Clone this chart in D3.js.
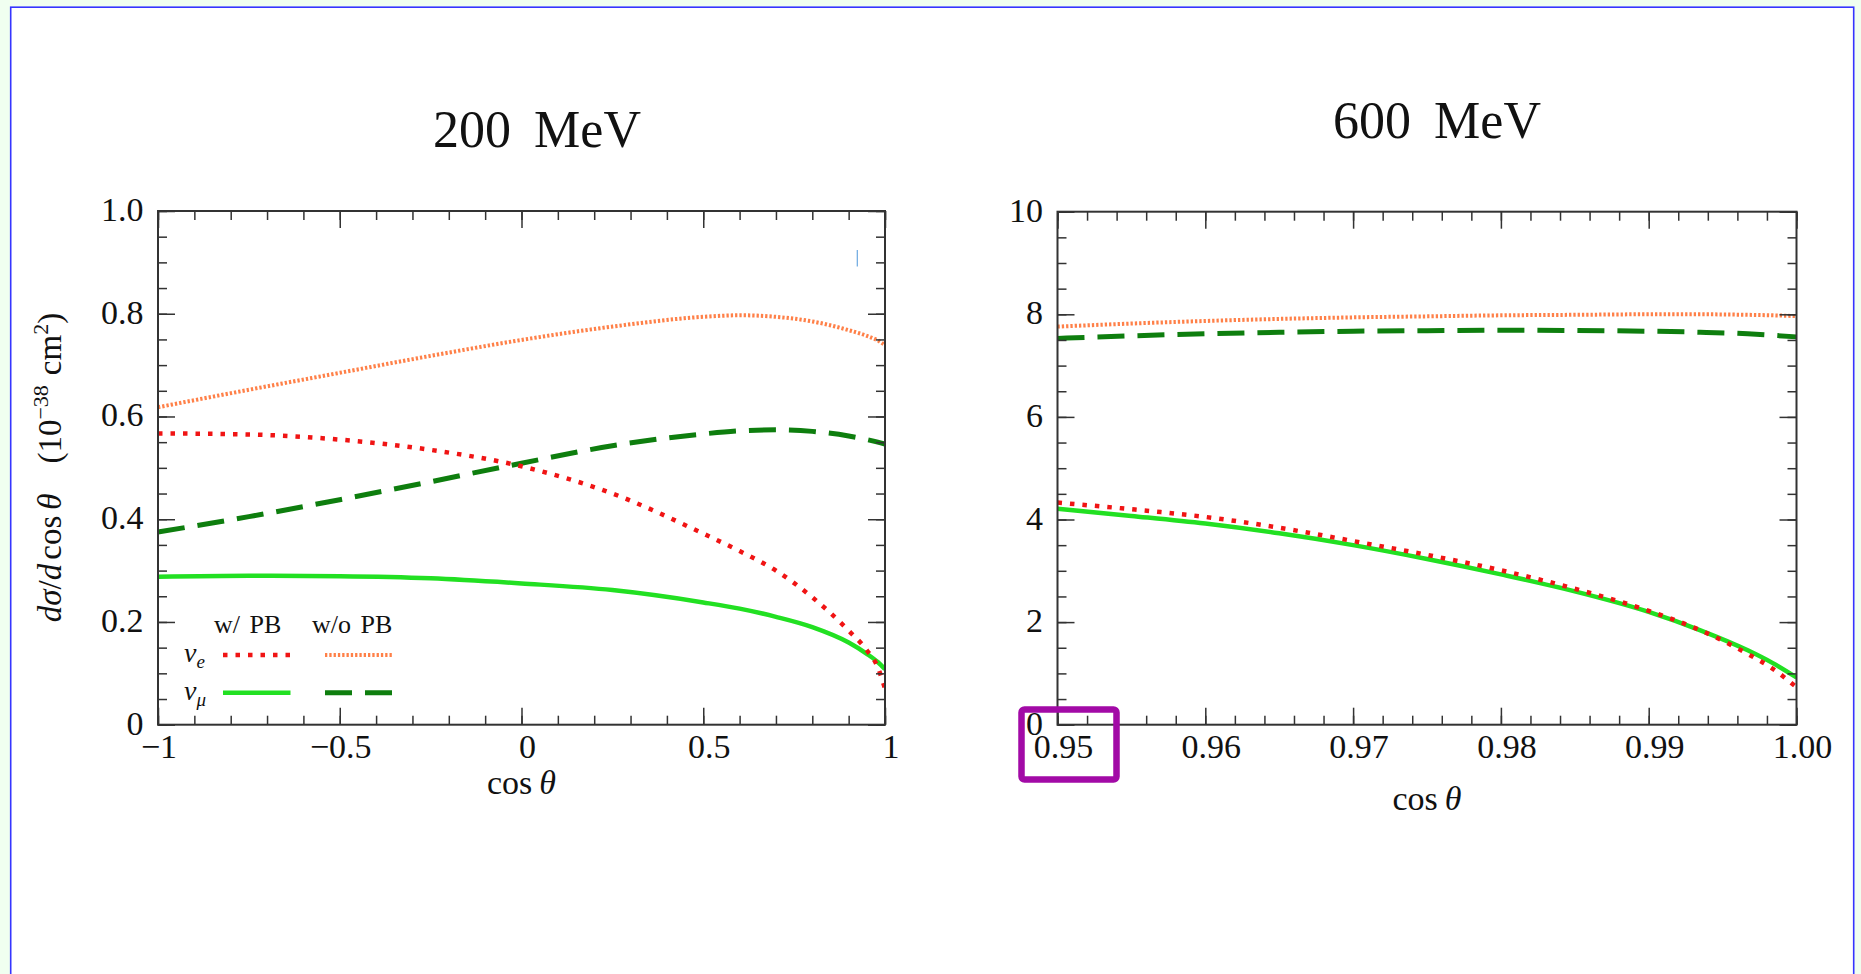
<!DOCTYPE html>
<html>
<head>
<meta charset="utf-8">
<script src="https://cdn.jsdelivr.net/npm/d3@7"></script>
<style>
  html, body { margin: 0; padding: 0; background: #f0fff0; }
  svg { display: block; }
  text { font-family: "Liberation Serif", "DejaVu Serif", serif; fill: #111; }
</style>
</head>
<body>
<svg id="fig" width="1861" height="974"></svg>
<script>
// ---- 200 MeV panel: dσ/dcosθ (10^-38 cm^2) versus cosθ ----
const cos200        = [-1, -0.75, -0.5, -0.25, 0, 0.25, 0.5, 0.6, 0.7, 0.8, 0.9, 0.95, 0.98, 1.0];
const nueWithPB200  = [0.567, 0.565, 0.555, 0.535, 0.503, 0.450, 0.372, 0.338, 0.300, 0.248, 0.183, 0.145, 0.112, 0.070];
const nueNoPB200    = [0.618, 0.652, 0.685, 0.718, 0.749, 0.775, 0.794, 0.797, 0.794, 0.785, 0.768, 0.757, 0.748, 0.739];
const numuWithPB200 = [0.288, 0.290, 0.289, 0.285, 0.275, 0.262, 0.238, 0.226, 0.210, 0.190, 0.160, 0.138, 0.122, 0.108];
const numuNoPB200   = [0.375, 0.405, 0.438, 0.473, 0.509, 0.543, 0.566, 0.572, 0.574, 0.571, 0.562, 0.555, 0.550, 0.546];

// ---- 600 MeV panel (forward region) ----
const cos600        = [0.95, 0.955, 0.96, 0.965, 0.97, 0.975, 0.98, 0.985, 0.99, 0.9935, 0.9967, 0.9984, 1.0];
const nueWithPB600  = [4.33, 4.20, 4.05, 3.84, 3.58, 3.31, 3.01, 2.65, 2.22, 1.84, 1.38, 1.09, 0.73];
const nueNoPB600    = [7.76, 7.82, 7.87, 7.91, 7.94, 7.96, 7.98, 7.99, 8.00, 8.00, 7.99, 7.98, 7.965];
const numuWithPB600 = [4.21, 4.07, 3.92, 3.73, 3.50, 3.23, 2.93, 2.60, 2.20, 1.84, 1.45, 1.20, 0.92];
const numuNoPB600   = [7.53, 7.58, 7.62, 7.65, 7.67, 7.68, 7.69, 7.685, 7.67, 7.65, 7.62, 7.59, 7.56];

// ---- tick labels ----
const xTicks200  = [-1, -0.5, 0, 0.5, 1];
const xLabels200 = ["\u22121", "\u22120.5", "0", "0.5", "1"];
const yTicks200  = [0, 0.2, 0.4, 0.6, 0.8, 1.0];
const yLabels200 = ["0", "0.2", "0.4", "0.6", "0.8", "1.0"];
const xTicks600  = [0.95, 0.96, 0.97, 0.98, 0.99, 1.00];
const xLabels600 = ["0.95", "0.96", "0.97", "0.98", "0.99", "1.00"];
const yTicks600  = [0, 2, 4, 6, 8, 10];
const yLabels600 = ["0", "2", "4", "6", "8", "10"];

const panelTitles = ["200 MeV", "600 MeV"];

// line styles for the four curves
const styles = {
  nueWith:  { color: "#f01414", width: 4.5, dash: "4.5,8" },
  nueNo:    { color: "#ff8048", width: 4,   dash: "2.3,2" },
  numuWith: { color: "#22e022", width: 4.5, dash: null },
  numuNo:   { color: "#0e7e0e", width: 5,   dash: "27,13" }
};

const svg = d3.select("#fig");

// page frame
svg.append("rect").attr("x", 0).attr("y", 0).attr("width", 1861).attr("height", 974).attr("fill", "#f0fff0");
svg.append("rect").attr("x", 10.7).attr("y", 7.2).attr("width", 1843).attr("height", 1000)
   .attr("fill", "#ffffff").attr("stroke", "#3535ff").attr("stroke-width", 1.6);

const axisColor = "#333";

function drawPanel(cfg) {
  const x = d3.scaleLinear().domain(cfg.xDomain).range([cfg.left, cfg.right]);
  const y = d3.scaleLinear().domain(cfg.yDomain).range([cfg.bottom, cfg.top]);
  const g = svg.append("g");
  const w = cfg.right - cfg.left, h = cfg.bottom - cfg.top;

  const clipId = "clip" + cfg.id;
  svg.append("clipPath").attr("id", clipId).append("rect")
     .attr("x", cfg.left).attr("y", cfg.top - 3).attr("width", w).attr("height", h + 3);

  // curves
  const line = d3.line().x(d => x(d[0])).y(d => y(d[1])).curve(d3.curveMonotoneX);
  const curves = g.append("g").attr("clip-path", `url(#${clipId})`);
  cfg.series.forEach(s => {
    const st = styles[s.style];
    curves.append("path")
      .datum(cfg.xs.map((v, i) => [v, s.values[i]]))
      .attr("d", line)
      .attr("fill", "none")
      .attr("stroke", st.color)
      .attr("stroke-width", st.width)
      .attr("stroke-dasharray", st.dash)
      .attr("stroke-linecap", "butt");
  });

  // minor and major ticks on all four sides, pointing inward
  const addAxis = (axisGen, tx, ty) => {
    const a = g.append("g").attr("transform", `translate(${tx},${ty})`).call(axisGen);
    a.select(".domain").remove();
    a.selectAll("line").attr("stroke", axisColor).attr("stroke-width", 1.5);
    a.selectAll("text").remove();
    return a;
  };
  const xMinor = d3.range(cfg.xDomain[0], cfg.xDomain[1] + cfg.xMinorStep / 2, cfg.xMinorStep);
  const yMinor = d3.range(cfg.yDomain[0], cfg.yDomain[1] + cfg.yMinorStep / 2, cfg.yMinorStep);
  addAxis(d3.axisBottom(x).tickValues(xMinor).tickSize(-9), 0, cfg.bottom);
  addAxis(d3.axisTop(x).tickValues(xMinor).tickSize(-9), 0, cfg.top);
  addAxis(d3.axisLeft(y).tickValues(yMinor).tickSize(-9), cfg.left, 0);
  addAxis(d3.axisRight(y).tickValues(yMinor).tickSize(-9), cfg.right, 0);
  addAxis(d3.axisBottom(x).tickValues(cfg.xTicks).tickSize(-17), 0, cfg.bottom);
  addAxis(d3.axisTop(x).tickValues(cfg.xTicks).tickSize(-17), 0, cfg.top);
  addAxis(d3.axisLeft(y).tickValues(cfg.yTicks).tickSize(-17), cfg.left, 0);
  addAxis(d3.axisRight(y).tickValues(cfg.yTicks).tickSize(-17), cfg.right, 0);

  // frame
  g.append("rect").attr("x", cfg.left).attr("y", cfg.top).attr("width", w).attr("height", h)
    .attr("fill", "none").attr("stroke", axisColor).attr("stroke-width", 2);

  // tick labels
  g.selectAll(".xl").data(cfg.xTicks).enter().append("text")
    .attr("x", (d) => x(d) + (d < 0 ? 1 : 6))
    .attr("y", cfg.bottom + 33)
    .attr("text-anchor", "middle")
    .attr("font-size", 34)
    .text((d, i) => cfg.xLabels[i]);
  g.selectAll(".yl").data(cfg.yTicks).enter().append("text")
    .attr("x", cfg.left - 14.5)
    .attr("y", d => y(d) + 10)
    .attr("text-anchor", "end")
    .attr("font-size", 34)
    .text((d, i) => cfg.yLabels[i]);

  // x axis title: cos θ
  const xt = g.append("text").attr("x", (cfg.left + cfg.right) / 2).attr("y", cfg.xTitleY)
    .attr("text-anchor", "middle").attr("font-size", 34);
  xt.append("tspan").text("cos");
  xt.append("tspan").attr("dx", 7).attr("font-style", "italic").text("\u03b8");

  // panel title
  g.append("text").attr("x", cfg.titleX).attr("y", cfg.titleY)
    .attr("text-anchor", "middle").attr("font-size", 52).attr("word-spacing", 10)
    .text(cfg.title);

  return { x, y };
}

drawPanel({
  id: "a", left: 158, right: 885, top: 211, bottom: 724.7,
  xDomain: [-1, 1], yDomain: [0, 1],
  xMinorStep: 0.1, yMinorStep: 0.05,
  xTicks: xTicks200, xLabels: xLabels200, yTicks: yTicks200, yLabels: yLabels200,
  xs: cos200,
  series: [
    { style: "nueNo",    values: nueNoPB200 },
    { style: "numuNo",   values: numuNoPB200 },
    { style: "numuWith", values: numuWithPB200 },
    { style: "nueWith",  values: nueWithPB200 }
  ],
  title: panelTitles[0], titleX: 537, titleY: 147, xTitleY: 794
});

drawPanel({
  id: "b", left: 1057.5, right: 1796.5, top: 211.7, bottom: 724.7,
  xDomain: [0.95, 1.0], yDomain: [0, 10],
  xMinorStep: 0.002, yMinorStep: 0.5,
  xTicks: xTicks600, xLabels: xLabels600, yTicks: yTicks600, yLabels: yLabels600,
  xs: cos600,
  series: [
    { style: "nueNo",    values: nueNoPB600 },
    { style: "numuNo",   values: numuNoPB600 },
    { style: "numuWith", values: numuWithPB600 },
    { style: "nueWith",  values: nueWithPB600 }
  ],
  title: panelTitles[1], titleX: 1437, titleY: 137.5, xTitleY: 810
});

// y axis title: dσ/dcosθ (10^-38 cm^2)
const yt = svg.append("text")
  .attr("transform", "translate(61,467.5) rotate(-90)")
  .attr("text-anchor", "middle").attr("font-size", 33);
yt.append("tspan").attr("font-style", "italic").text("d\u03c3");
yt.append("tspan").text("/");
yt.append("tspan").attr("font-style", "italic").text("d");
yt.append("tspan").attr("dx", 4).text("cos");
yt.append("tspan").attr("dx", 6).attr("font-style", "italic").text("\u03b8");
yt.append("tspan").attr("dx", 30).text("(10");
yt.append("tspan").attr("dy", -13).attr("font-size", 22).text("\u221238");
yt.append("tspan").attr("dy", 13).attr("dx", 10).text("cm");
yt.append("tspan").attr("dy", -13).attr("font-size", 22).text("2");
yt.append("tspan").attr("dy", 13).text(")");

// legend (inside the 200 MeV panel)
const legendCols = ["w/ PB", "w/o PB"];
const legendRows = ["e", "\u03bc"];
const legendStyles = [["nueWith", "nueNo"], ["numuWith", "numuNo"]];
const colX = [223, 325], colW = 67.5, rowY = [655, 692.7];

const lg = svg.append("g");
legendCols.forEach((c, j) => {
  lg.append("text").attr("x", j === 0 ? 214 : 312).attr("y", 633)
    .attr("font-size", 26).attr("word-spacing", 3).text(c);
});
legendRows.forEach((r, i) => {
  const t = lg.append("text").attr("x", 184).attr("y", rowY[i] + 7).attr("font-size", 28);
  t.append("tspan").attr("font-style", "italic").text("\u03bd");
  t.append("tspan").attr("font-style", "italic").attr("font-size", 19).attr("dy", 6).text(r);
  legendStyles[i].forEach((s, j) => {
    const st = styles[s];
    lg.append("line")
      .attr("x1", colX[j]).attr("x2", colX[j] + colW)
      .attr("y1", rowY[i]).attr("y2", rowY[i])
      .attr("stroke", st.color).attr("stroke-width", st.width)
      .attr("stroke-dasharray", st.dash);
  });
});

// small blue mark near the top right of the 200 MeV panel
svg.append("line").attr("x1", 857.3).attr("x2", 857.3).attr("y1", 250).attr("y2", 266.5)
  .attr("stroke", "#6aa8e0").attr("stroke-width", 1.2);

// highlight box around the first tick label of the 600 MeV panel
svg.append("rect").attr("x", 1021.5).attr("y", 709.5).attr("width", 95).attr("height", 70)
  .attr("rx", 3).attr("fill", "none").attr("stroke", "#a20aa6").attr("stroke-width", 6.5);
</script>
</body>
</html>
